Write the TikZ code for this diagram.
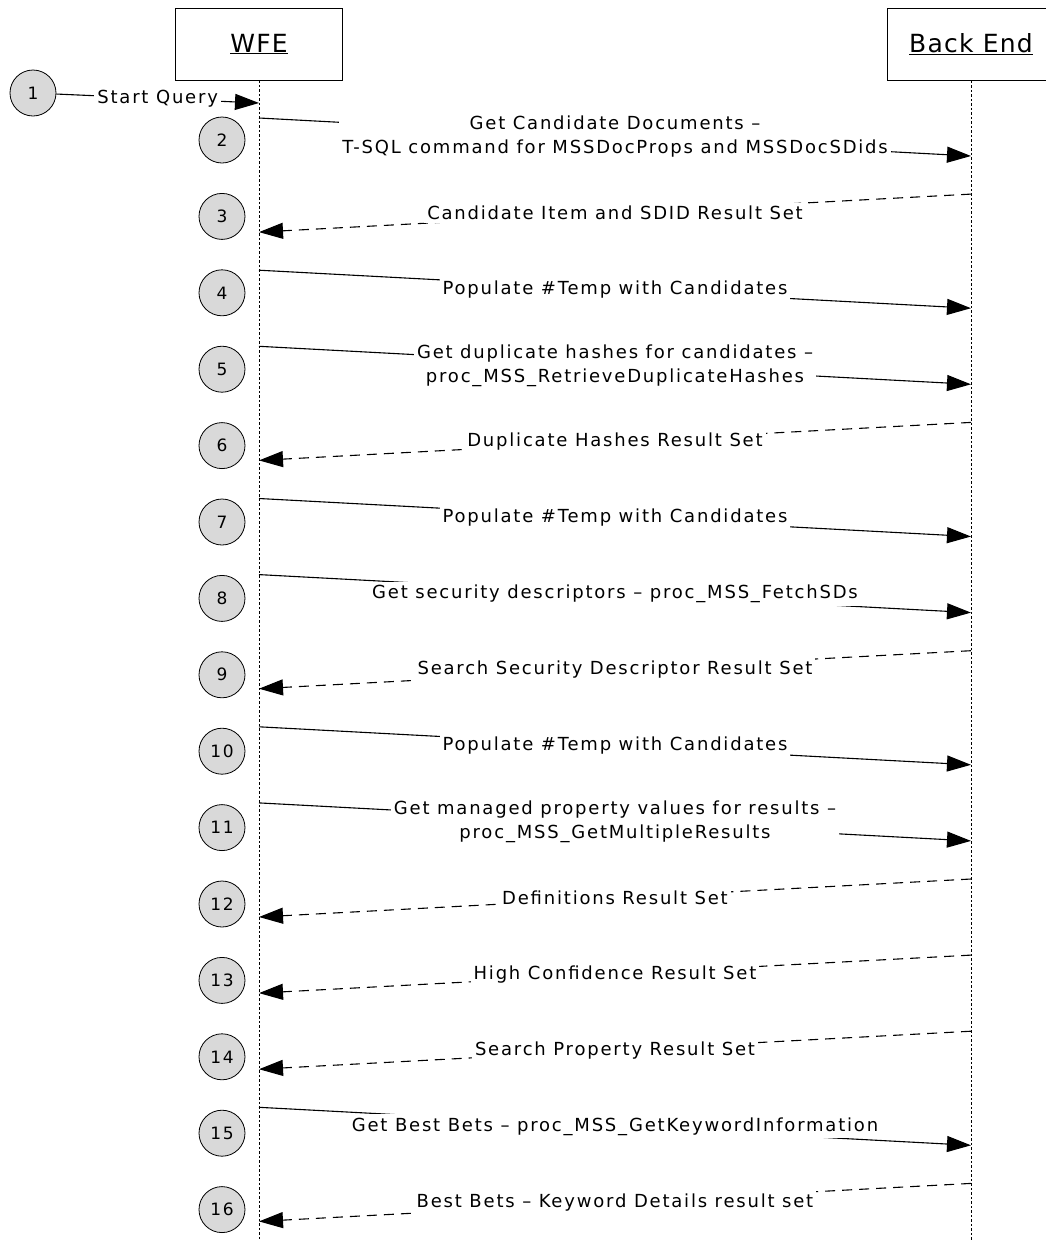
\documentclass[tikz,border=0pt]{standalone}
\usepackage{fontspec}
\setmainfont{DejaVu Sans}
\newfontfamily\msgfont[LetterSpace=10]{DejaVu Sans}
\newfontfamily\headfont[LetterSpace=5]{DejaVu Sans}
\usepackage{tikz}
\usetikzlibrary{positioning}
\usetikzlibrary{calc}
\usetikzlibrary{arrows.meta}

\begin{document}
\begin{tikzpicture}[x=1pt, y=-1pt,
    actor/.style={draw, line width=0.8pt, minimum width=167pt, minimum height=72pt, font=\headfont\fontsize{25}{28}\selectfont},
    lifeline/.style={line width=0.9pt, dash pattern=on 2.5pt off 2pt},
    stepno/.style={circle, draw, fill=gray!30, minimum size=46pt, inner sep=0pt, line width=0.8pt, font=\msgfont\fontsize{17}{20}\selectfont},
    call/.style={line width=1.1pt, -{Triangle[length=24pt, width=16pt]}},
    reply/.style={call, dash pattern=on 10pt off 7pt},
    msg/.style={fill=white, inner sep=3pt, align=center, font=\msgfont\fontsize{18}{24}\selectfont}]

  \useasboundingbox (0,0) rectangle (1045,1240);

  % participants and lifelines
  \node[actor] (wfe) at (259,44) {\underline{WFE}};
  \node[actor] (be) at (971,44.5) {\underline{Back End}};
  \coordinate (wfeend) at (259,1240);
  \coordinate (beend) at (971,1240);
  \draw[lifeline] (wfe.south) -- (wfeend);
  \draw[lifeline] (be.south) -- (beend);

  % step numbers and message ends
  \node[stepno] (s1) at (33,93) {1};
  \coordinate (w1) at (259,103);
  \foreach \i in {2,...,16} {
    \pgfmathsetmacro\ys{118+76.1*(\i-2)}
    \pgfmathsetmacro\yc{140+76.4*(\i-2)}
    \node[stepno] (s\i) at (222,\yc) {\i};
    \coordinate (wa\i) at (259,\ys);
    \coordinate (wb\i) at (259,\ys+38);
    \coordinate (ba\i) at (971,\ys);
    \coordinate (bb\i) at (971,\ys+38);
  }

  % messages
  \draw[call] (s1) -- node[msg] {Start Query} (w1);
  \draw[call] (wa2) -- node[msg] {Get Candidate Documents –\\T-SQL command for MSSDocProps and MSSDocSDids} (bb2);
  \draw[reply] (ba3) -- node[msg] {Candidate Item and SDID Result Set} (wb3);
  \draw[call] (wa4) -- node[msg] {Populate \#Temp with Candidates} (bb4);
  \draw[call] (wa5) -- node[msg] {Get duplicate hashes for candidates –\\proc\_MSS\_RetrieveDuplicateHashes} (bb5);
  \draw[reply] (ba6) -- node[msg] {Duplicate Hashes Result Set} (wb6);
  \draw[call] (wa7) -- node[msg] {Populate \#Temp with Candidates} (bb7);
  \draw[call] (wa8) -- node[msg] {Get security descriptors – proc\_MSS\_FetchSDs} (bb8);
  \draw[reply] (ba9) -- node[msg] {Search Security Descriptor Result Set} (wb9);
  \draw[call] (wa10) -- node[msg] {Populate \#Temp with Candidates} (bb10);
  \draw[call] (wa11) -- node[msg] {Get managed property values for results –\\proc\_MSS\_GetMultipleResults} (bb11);
  \draw[reply] (ba12) -- node[msg] {Definitions Result Set} (wb12);
  \draw[reply] (ba13) -- node[msg] {High Confidence Result Set} (wb13);
  \draw[reply] (ba14) -- node[msg] {Search Property Result Set} (wb14);
  \draw[call] (wa15) -- node[msg] {Get Best Bets – proc\_MSS\_GetKeywordInformation} (bb15);
  \draw[reply] (ba16) -- node[msg] {Best Bets – Keyword Details result set} (wb16);
\end{tikzpicture}
\end{document}
